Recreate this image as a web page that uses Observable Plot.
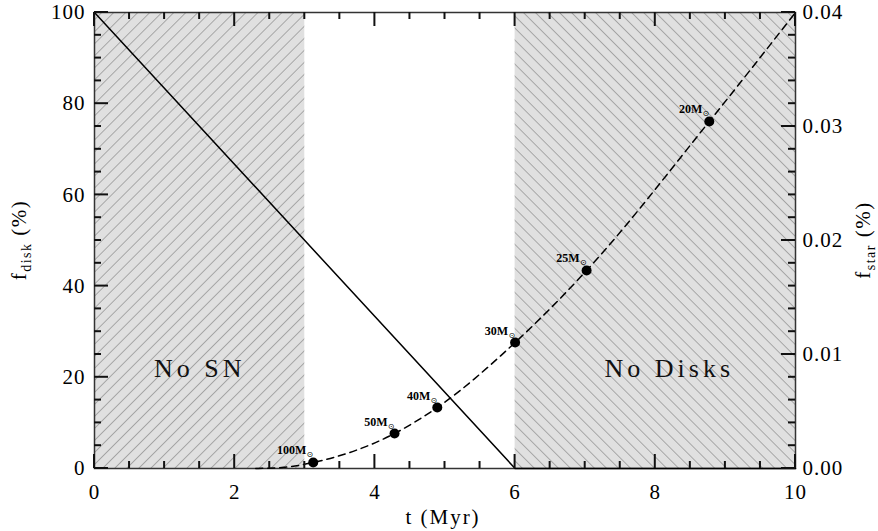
<!DOCTYPE html>
<html><head><meta charset="utf-8">
<script src="https://cdn.jsdelivr.net/npm/d3@7"></script>
<script src="https://cdn.jsdelivr.net/npm/@observablehq/plot@0.6"></script>
<style>
body{margin:0;background:#fff}
#chart{position:relative;width:878px;height:531px}
</style>
</head><body><div id="chart"></div>
<script>
// Shaded regions
const regionNames = ["No SN", "No Disks"];
const regionStart = [0, 6];
const regionEnd = [3, 10];
const regionLabelT = [1.5, 8.2];
const regionLabelDisk = [22, 22];

// f_disk (%) vs t (Myr): solid line
const diskT = [0, 6, 10];
const diskF = [100, 0, 0];

// f_star (%) vs t (Myr): dashed curve
const starCurveT = [2.3, 2.7, 3.12, 4.28, 4.89, 6.0, 7.02, 8.77, 10];
const starCurveF = [0, 0.0001, 0.00053, 0.00307, 0.00535, 0.01105, 0.01737, 0.03044, 0.04];

// stellar masses marked on the curve
const starMass = ["100M", "50M", "40M", "30M", "25M", "20M"];
const starT = [3.12, 4.28, 4.89, 6.0, 7.02, 8.77];
const starF = [0.00053, 0.00307, 0.00535, 0.01105, 0.01737, 0.03044];

// axes
const xTicks = [0, 2, 4, 6, 8, 10];
const xTickLabels = ["0", "2", "4", "6", "8", "10"];
const diskTicks = [0, 20, 40, 60, 80, 100];
const diskTickLabels = ["0", "20", "40", "60", "80", "100"];
const starTicks = [0, 0.01, 0.02, 0.03, 0.04];
const starTickLabels = ["0.00", "0.01", "0.02", "0.03", "0.04"];

const K = 100 / 0.04; // f_star -> f_disk axis scale
const font = "Liberation Serif";

const W = 878, H = 531, ML = 94, MR = 83, MT = 12, MB = 63;
const FW = W - ML - MR, FH = H - MT - MB;

const idx = arr => arr.map((_, i) => i);
const xMinor = d3.range(0, 10.001, 0.5).filter(v => !xTicks.includes(v));
const yMinorL = d3.range(0, 100.001, 5).filter(v => !diskTicks.includes(v));
const starTicksOnDisk = starTicks.map(s => s * K);
const yMinorR = d3.range(0, 100.001, 5).filter(v => !starTicksOnDisk.includes(v));

const plot = Plot.plot({
  width: W, height: H,
  marginLeft: ML, marginRight: MR, marginTop: MT, marginBottom: MB,
  style: {fontFamily: font, background: "#fff"},
  x: {domain: [0, 10]},
  y: {domain: [0, 100]},
  marks: [
    Plot.rect([0], {x1: regionStart[0], x2: regionEnd[0], y1: 0, y2: 100, fill: "url(#hatchL)"}),
    Plot.rect([1], {x1: regionStart[1], x2: regionEnd[1], y1: 0, y2: 100, fill: "url(#hatchR)"}),
    Plot.text(idx(regionNames), {x: i => regionLabelT[i], y: i => regionLabelDisk[i], text: i => regionNames[i],
      fontSize: 26, fill: "#111"}),
    // tick labels
    Plot.axisX(xTicks, {anchor: "bottom", tickSize: 0, tickPadding: 16, fontSize: 21,
      tickFormat: d => xTickLabels[xTicks.indexOf(d)], label: null}),
    Plot.axisY(diskTicks, {anchor: "left", tickSize: 0, tickPadding: 9, fontSize: 21,
      tickFormat: d => diskTickLabels[diskTicks.indexOf(d)], label: null}),
    Plot.axisY(starTicksOnDisk, {anchor: "right", tickSize: 0, tickPadding: 7, fontSize: 21,
      tickFormat: d => starTickLabels[starTicksOnDisk.indexOf(d)], label: null}),
    Plot.frame({stroke: "#333", strokeWidth: 1.5, fill: "none"}),
    Plot.line(idx(diskT), {x: i => diskT[i], y: i => diskF[i], stroke: "#000", strokeWidth: 1.5}),
    Plot.line(idx(starCurveT), {x: i => starCurveT[i], y: i => starCurveF[i] * K, stroke: "#000",
      strokeWidth: 1.5, strokeDasharray: "7,5", curve: "monotone-x"}),
    Plot.dot(idx(starT), {x: i => starT[i], y: i => starF[i] * K, r: 5, fill: "#000"}),
    Plot.text(idx(starT), {x: i => starT[i], y: i => starF[i] * K, text: i => starMass[i],
      textAnchor: "end", lineAnchor: "bottom", dx: -7, dy: -8, fontSize: 12, fontWeight: "bold", fill: "#000"}),
    Plot.text(idx(starT), {x: i => starT[i], y: i => starF[i] * K, text: () => "\u2299",
      textAnchor: "end", lineAnchor: "bottom", dx: 0, dy: -5, fontSize: 8, fill: "#000",
      fontFamily: "DejaVu Sans"})
  ]
});

document.getElementById("chart").appendChild(plot);
const svg = d3.select(plot);
const defs = svg.append("defs");
function hatch(id, angle) {
  const s = 8.5;
  const p = defs.append("pattern").attr("id", id).attr("patternUnits", "userSpaceOnUse")
    .attr("width", s).attr("height", s).attr("patternTransform", `rotate(${angle})`);
  p.append("rect").attr("width", s).attr("height", s).attr("fill", "#e0e0e0");
  p.append("line").attr("x1", s / 2).attr("x2", s / 2).attr("y1", -1).attr("y2", s + 1)
    .attr("stroke", "#a4a4a4").attr("stroke-width", 1);
}
hatch("hatchL", 45);
hatch("hatchR", -45);
svg.selectAll("text").filter(function () { return regionNames.includes(this.textContent); })
  .style("letter-spacing", "4px");
svg.selectAll("g[aria-label$='tick label'] text").style("letter-spacing", "1px");

// inward ticks, positioned through Plot's own scales
const sx = plot.scale("x"), sy = plot.scale("y");
const X0 = sx.apply(0), X1 = sx.apply(10), Y0 = sy.apply(0), Y1 = sy.apply(100);
const tg = svg.append("g").attr("stroke", "#111").attr("stroke-width", 2);
function xt(vals, len) {
  vals.forEach(v => {
    const x = sx.apply(v);
    tg.append("line").attr("x1", x).attr("x2", x).attr("y1", Y0).attr("y2", Y0 - len);
    tg.append("line").attr("x1", x).attr("x2", x).attr("y1", Y1).attr("y2", Y1 + len);
  });
}
function yt(vals, len, left) {
  vals.forEach(v => {
    const y = sy.apply(v);
    if (left) tg.append("line").attr("x1", X0).attr("x2", X0 + len).attr("y1", y).attr("y2", y);
    else tg.append("line").attr("x1", X1).attr("x2", X1 - len).attr("y1", y).attr("y2", y);
  });
}
xt(xMinor, 7); xt(xTicks, 14);
yt(yMinorL, 7, true); yt(diskTicks, 14, true);
yt(yMinorR, 7, false); yt(starTicksOnDisk, 14, false);

// axis titles
svg.append("text").attr("x", 443).attr("y", 524).attr("text-anchor", "middle")
  .attr("font-family", font).attr("font-size", 21).style("letter-spacing", "2px").text("t (Myr)");

function vtitle(x, sub) {
  const t = svg.append("text").attr("transform", `translate(${x},240) rotate(-90)`)
    .attr("text-anchor", "middle").attr("font-family", font).attr("font-size", 21)
    .style("letter-spacing", "1.5px");
  t.append("tspan").text("f");
  t.append("tspan").attr("font-size", 14).attr("dy", 5).text(sub);
  t.append("tspan").attr("dy", -5).text(" (%)");
}
vtitle(26, "disk");
vtitle(870, "star");
</script>
</body></html>
